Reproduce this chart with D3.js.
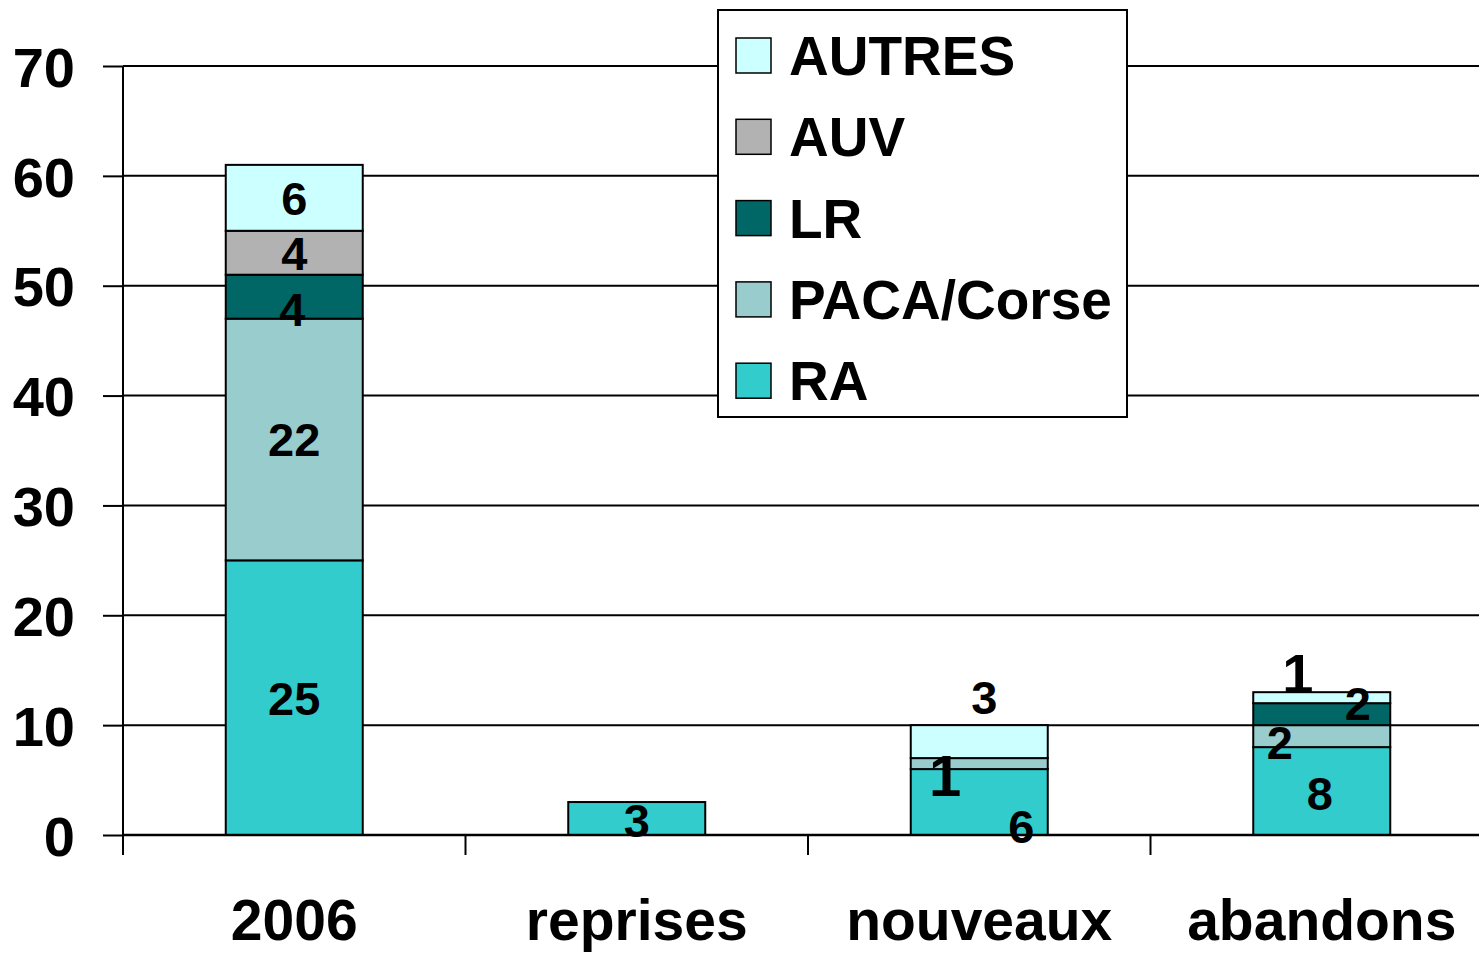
<!DOCTYPE html>
<html><head><meta charset="utf-8">
<script src="https://d3js.org/d3.v7.min.js"></script>
<style>body{margin:0;background:#fff}svg{display:block}text{font-family:"Liberation Sans",Arial,sans-serif;font-weight:bold}</style>
</head><body><svg id="c" width="1479" height="953"></svg>
<script>
const categories = ["2006", "reprises", "nouveaux", "abandons"];
const seriesNames = ["RA", "PACA/Corse", "LR", "AUV", "AUTRES"];
const RA      = [25, 3, 6, 8];
const PACA    = [22, 0, 1, 2];
const LR      = [4, 0, 0, 2];
const AUV     = [4, 0, 0, 0];
const AUTRES  = [6, 0, 3, 1];
const yTicks  = [0, 10, 20, 30, 40, 50, 60, 70];
const colors = {"RA":"#33CCCC","PACA/Corse":"#99CCCC","LR":"#006666","AUV":"#B2B2B2","AUTRES":"#CCFFFF"};
const legendOrder = ["AUTRES","AUV","LR","PACA/Corse","RA"];
// label nudges (Excel-style placement), keyed "category|series": [dx, dy, fontSize]
const nudge = {
  "2006|LR":[-2,12,47],
  "reprises|RA":[0,2,47],
  "nouveaux|RA":[42,24,47],
  "nouveaux|PACA/Corse":[-34,12,58],
  "nouveaux|AUTRES":[5,-44,47],
  "abandons|RA":[-2,2,47],
  "abandons|PACA/Corse":[-42,6,47],
  "abandons|LR":[36,-11,47],
  "abandons|AUTRES":[-24,-25,56]
};

const values = {"RA":RA,"PACA/Corse":PACA,"LR":LR,"AUV":AUV,"AUTRES":AUTRES};
const rows = categories.map((c,i)=>{const r={cat:c};seriesNames.forEach(s=>r[s]=values[s][i]);return r;});
const stack = d3.stack().keys(seriesNames)(rows);

const svg = d3.select("#c");
const x0 = 123, x1 = 1493, yTop = 66, yBot = 835;
const x = d3.scaleBand().domain(categories).range([x0,x1]);
const y = d3.scaleLinear().domain([0,70]).range([yBot,yTop]);
const bw = x.bandwidth()*0.4;

// gridlines
svg.append("g").selectAll("line").data(yTicks).join("line")
  .attr("x1",x0).attr("x2",1479).attr("y1",d=>y(d)).attr("y2",d=>y(d))
  .attr("stroke","#000").attr("stroke-width",2);

// y axis
const ya = svg.append("g").attr("transform",`translate(${x0},0)`)
  .call(d3.axisLeft(y).tickValues(yTicks).tickSize(20).tickPadding(28).tickFormat(d3.format("d")));
ya.select(".domain").remove();
ya.selectAll(".tick line").attr("stroke","#000").attr("stroke-width",2);
ya.selectAll("text").attr("font-size",56).attr("fill","#000").attr("font-family","Liberation Sans, Arial, sans-serif").attr("font-weight","bold").attr("dy","0.36em");
svg.append("line").attr("x1",x0).attr("x2",x0).attr("y1",yTop).attr("y2",yBot+20).attr("stroke","#000").attr("stroke-width",2);

// bars
const g = svg.append("g");
stack.forEach(layer=>{
  g.append("g").selectAll("rect").data(layer.filter(d=>d[1]-d[0]>0)).join("rect")
    .attr("x",d=>x(d.data.cat)+x.bandwidth()/2-bw/2)
    .attr("width",bw)
    .attr("y",d=>y(d[1])).attr("height",d=>y(d[0])-y(d[1]))
    .attr("fill",colors[layer.key]).attr("stroke","#000").attr("stroke-width",2);
});

// x axis ticks & baseline
svg.append("line").attr("x1",x0).attr("x2",1479).attr("y1",yBot).attr("y2",yBot).attr("stroke","#000").attr("stroke-width",2.5);
const xa = svg.append("g").attr("transform",`translate(0,${yBot})`)
  .call(d3.axisBottom(x).tickSize(0).tickPadding(0));
xa.select(".domain").remove();
xa.selectAll(".tick line").remove();
xa.selectAll("text").attr("font-size",57).attr("fill","#000").attr("font-family","Liberation Sans, Arial, sans-serif").attr("font-weight","bold").attr("dy",0).attr("y",105);
svg.append("g").selectAll("line").data(categories).join("line")
  .attr("x1",d=>x(d)).attr("x2",d=>x(d)).attr("y1",yBot).attr("y2",yBot+20)
  .attr("stroke","#000").attr("stroke-width",2);

// data labels
stack.forEach(layer=>{
  layer.forEach(d=>{
    const v = d[1]-d[0];
    if(v<=0) return;
    const key = d.data.cat+"|"+layer.key;
    const n = nudge[key] || [0,0,47];
    const cx = x(d.data.cat)+x.bandwidth()/2 + n[0];
    const cy = y((d[0]+d[1])/2) + n[1];
    svg.append("text").attr("x",cx).attr("y",cy+0.358*n[2]).attr("text-anchor","middle")
      .attr("font-size",n[2]).attr("fill","#000").text(v);
  });
});

// legend
const lg = svg.append("g");
lg.append("rect").attr("x",718).attr("y",10).attr("width",409).attr("height",407)
  .attr("fill","#fff").attr("stroke","#000").attr("stroke-width",2);
legendOrder.forEach((s,i)=>{
  const ry = 38 + i*81.3;
  lg.append("rect").attr("x",736).attr("y",ry).attr("width",35).attr("height",35)
    .attr("fill",colors[s]).attr("stroke","#000").attr("stroke-width",1.5);
  lg.append("text").attr("x",789).attr("y",ry+17.5+0.358*55).attr("font-size",55).attr("fill","#000").text(s);
});
</script></body></html>
